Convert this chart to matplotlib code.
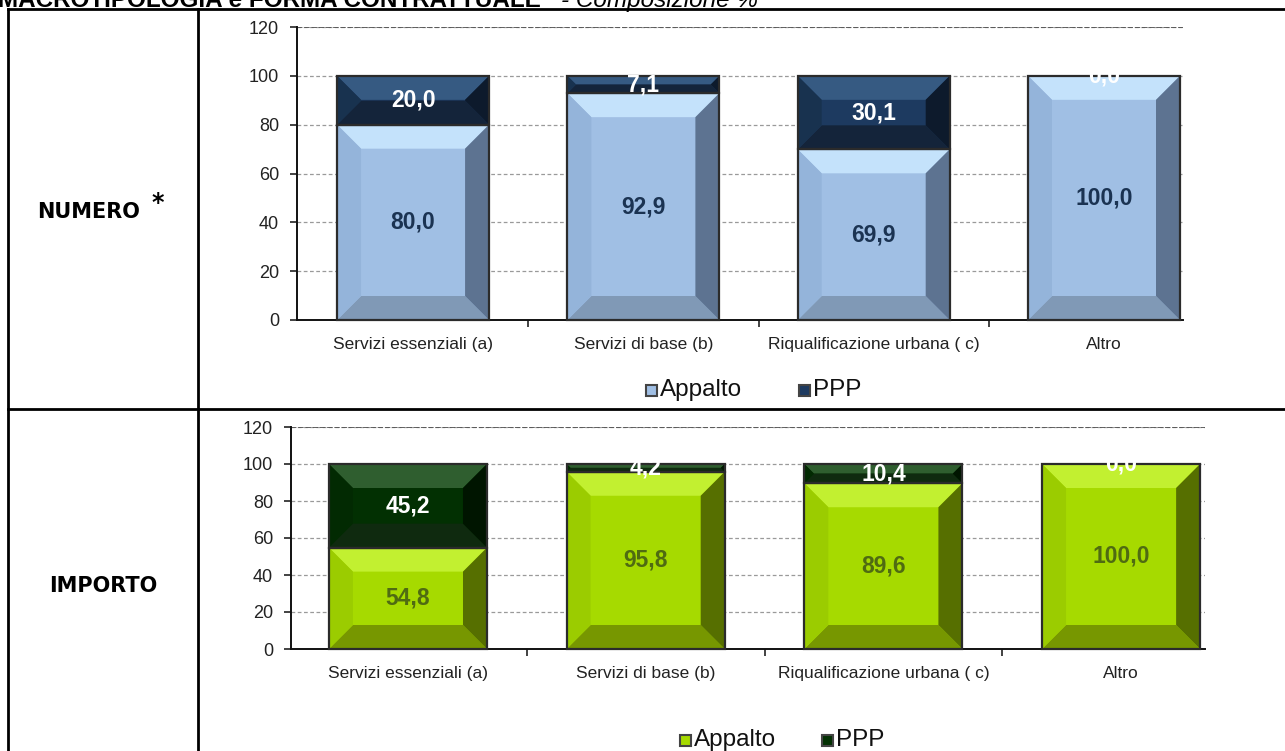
import matplotlib
matplotlib.use("Agg")
import matplotlib.pyplot as plt
from matplotlib.patches import Polygon
from matplotlib.lines import Line2D
from matplotlib.transforms import IdentityTransform

categories = ["Servizi essenziali (a)", "Servizi di base (b)",
              "Riqualificazione urbana ( c)", "Altro"]
numero_appalto = [80.0, 92.9, 69.9, 100.0]
numero_ppp = [20.0, 7.1, 30.1, 0.0]
importo_appalto = [54.8, 95.8, 89.6, 100.0]
importo_ppp = [45.2, 4.2, 10.4, 0.0]
series_names = ["Appalto", "PPP"]
row_labels = ["NUMERO", "IMPORTO"]
yticks = [0, 20, 40, 60, 80, 100, 120]

W, H = 1285, 751
DPI = 100
fig = plt.figure(figsize=(W / DPI, H / DPI), dpi=DPI)
fig.patch.set_facecolor("white")

SANS = ["Liberation Sans", "DejaVu Sans"]

PAL_TOP = {
    "Appalto": dict(base="#a0bfe4", top="#c4e2fb", left="#94b4da", right="#5d7391", bottom="#8099b6", label="#1b3352"),
    "PPP": dict(base="#1d3a60", top="#365a82", left="#18324f", right="#0d1a2c", bottom="#14243a", label="white"),
}
PAL_BOT = {
    "Appalto": dict(base="#a6da00", top="#c2f030", left="#9bcc00", right="#566f00", bottom="#779700", label="#4f6b12"),
    "PPP": dict(base="#023002", top="#2f5e2f", left="#022a02", right="#001500", bottom="#0f2a0f", label="white"),
}


def bevel(ax, bars, pal):
    for rect in bars:
        h = rect.get_height()
        if h <= 0:
            continue
        x0, y0 = rect.get_x(), rect.get_y()
        x1, y1 = x0 + rect.get_width(), y0 + h
        (px0, py0) = ax.transData.transform((x0, y0))
        (px1, py1) = ax.transData.transform((x1, y1))
        w = px1 - px0
        hh = py1 - py0
        b = min(24.0, w / 2.0, hh / 2.0)
        ix0, iy0, ix1, iy1 = px0 + b, py0 + b, px1 - b, py1 - b
        polys = [
            ([(px0, py1), (px1, py1), (ix1, iy1), (ix0, iy1)], pal["top"]),
            ([(px0, py0), (px1, py0), (ix1, iy0), (ix0, iy0)], pal["bottom"]),
            ([(px0, py0), (ix0, iy0), (ix0, iy1), (px0, py1)], pal["left"]),
            ([(px1, py0), (ix1, iy0), (ix1, iy1), (px1, py1)], pal["right"]),
        ]
        for pts, c in polys:
            p = Polygon(pts, closed=True, facecolor=c, edgecolor="none",
                        transform=IdentityTransform(), zorder=3, clip_on=False)
            ax.add_artist(p)
        out = Polygon([(px0, py0), (px1, py0), (px1, py1), (px0, py1)], closed=True,
                      facecolor="none", edgecolor="#2b2b2b", linewidth=1.6,
                      transform=IdentityTransform(), zorder=4, clip_on=False)
        ax.add_artist(out)


def make_chart(rect_px, xlim, width, appalto, ppp, pal, tick_fs):
    left, top, right, bottom = rect_px
    ax = fig.add_axes([left / W, 1 - bottom / H, (right - left) / W, (bottom - top) / H])
    ax.set_xlim(*xlim)
    ax.set_ylim(0, 120)
    x = list(range(len(categories)))
    b1 = ax.bar(x, appalto, width=width, color=pal["Appalto"]["base"], zorder=2,
                edgecolor="none")
    b2 = ax.bar(x, ppp, width=width, bottom=appalto, color=pal["PPP"]["base"], zorder=2,
                edgecolor="none")
    ax.set_yticks(yticks)
    ax.set_yticklabels([str(v) for v in yticks], fontsize=13, family=SANS, color="#222222")
    ax.set_xticks(x)
    ax.set_xticklabels(categories, fontsize=tick_fs, family=SANS, color="#222222")
    ax.set_xticks([i + 0.5 for i in range(len(categories) - 1)], minor=True)
    ax.tick_params(axis="x", which="major", length=0, pad=12)
    ax.tick_params(axis="x", which="minor", length=5, width=1.2, color="#222222")
    ax.tick_params(axis="y", length=5, width=1.2, color="#222222", pad=8)
    for s in ["top", "right"]:
        ax.spines[s].set_visible(False)
    for s in ["left", "bottom"]:
        ax.spines[s].set_linewidth(1.4)
        ax.spines[s].set_color("#111111")
    ax.yaxis.grid(True, linestyle=(0, (3, 2)), color="#9a9a9a", linewidth=0.9, zorder=0)
    ax.axhline(120, color="#555555", linewidth=1.3, linestyle=(0, (3, 1)), zorder=1)
    ax.set_axisbelow(True)
    ax.patch.set_alpha(0)
    bevel(ax, b1, pal["Appalto"])
    bevel(ax, b2, pal["PPP"])
    for i in x:
        ax.text(i, appalto[i] / 2.0, f"{appalto[i]:.1f}".replace(".", ","),
                ha="center", va="center", fontsize=16.5, fontweight="bold",
                family=SANS, color=pal["Appalto"]["label"], zorder=6)
        ax.text(i, appalto[i] + ppp[i] / 2.0, f"{ppp[i]:.1f}".replace(".", ","),
                ha="center", va="center", fontsize=16.5, fontweight="bold",
                family=SANS, color=pal["PPP"]["label"], zorder=6, clip_on=False)
    return ax


def legend(pal, cy, x_app, x_ppp):
    for name, xx in zip(series_names, [x_app, x_ppp]):
        sq = 11
        p = Polygon([(xx - sq / 2, H - cy - sq / 2), (xx + sq / 2, H - cy - sq / 2),
                     (xx + sq / 2, H - cy + sq / 2), (xx - sq / 2, H - cy + sq / 2)],
                    closed=True, facecolor=pal[name]["base"], edgecolor="#444444",
                    linewidth=1.5, transform=IdentityTransform())
        fig.add_artist(p)
        fig.text((xx + 9) / W, 1 - cy / H, name, ha="left", va="center",
                 fontsize=17.5, family=SANS, color="#111111")


make_chart((297, 27, 1183, 320), (-0.504, 3.343), 0.66,
           numero_appalto, numero_ppp, PAL_TOP, 12.5)
legend(PAL_TOP, 390, 651, 804)

make_chart((291, 427, 1205, 649), (-0.492, 3.353), 0.665,
           importo_appalto, importo_ppp, PAL_BOT, 12.5)
legend(PAL_BOT, 740, 685, 827)


def hline(y, x0, x1):
    fig.add_artist(Line2D([x0 / W, x1 / W], [1 - y / H, 1 - y / H], color="black",
                          linewidth=2.0, transform=fig.transFigure))


def vline(x, y0, y1):
    fig.add_artist(Line2D([x / W, x / W], [1 - y0 / H, 1 - y1 / H], color="black",
                          linewidth=2.0, transform=fig.transFigure))


hline(9, 8, W)
hline(409, 8, W)
vline(8, 9, H)
vline(198, 9, H)

fig.text(89 / W, 1 - 212 / H, row_labels[0], ha="center", va="center",
         fontsize=15, fontweight="bold", family=["DejaVu Sans"])
fig.text(158 / W, 1 - 203 / H, "*", ha="center", va="center",
         fontsize=17, fontweight="bold", family=["DejaVu Sans"])
fig.text(103 / W, 1 - 586 / H, row_labels[1], ha="center", va="center",
         fontsize=15, fontweight="bold", family=["DejaVu Sans"])

# title, cropped by the top edge as in the source
fig.text(-2 / W, 1 - 7 / H, "MACROTIPOLOGIA e FORMA CONTRATTUALE",
         ha="left", va="baseline", fontsize=17.5, fontweight="bold", family=SANS)
fig.text(561 / W, 1 - 7 / H, "- Composizione %", ha="left", va="baseline",
         fontsize=17.5, style="italic", family=SANS)

fig.savefig("out.png", dpi=DPI, facecolor="white")
